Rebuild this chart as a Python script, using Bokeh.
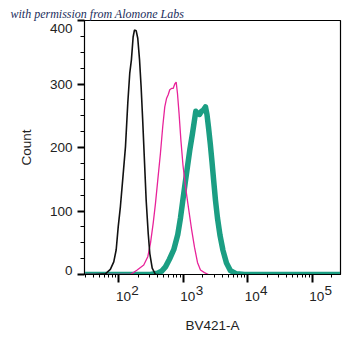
from bokeh.plotting import figure
from bokeh.models import (Range1d, SingleIntervalTicker, LogTicker, FixedTicker,
                          LinearAxis, LogAxis, Title)
from bokeh.embed import file_html
from bokeh.resources import INLINE

# Histogram outlines (BV421-A intensity, count)
black_x = [30, 43.5, 62, 74, 83.6, 91.2, 98, 106, 115, 127, 138, 148, 157, 167, 175, 186,
           197, 210, 222, 235, 250, 266, 286, 303, 330, 371, 417]
black_y = [0, 0, 1, 8, 20, 39, 75, 107, 149, 201, 270, 317, 338, 374, 385, 384,
           372, 338, 296, 243, 180, 117, 65, 33, 10, 0, 0]

pink_x = [30, 152, 193, 244, 282, 310, 342, 371, 403, 443, 481, 517, 550, 584, 618, 657,
          698, 739, 777, 814, 859, 922, 991, 1084, 1206, 1343, 1494, 1663, 1851, 2134, 2462]
pink_y = [0, 0, 7, 15, 28, 49, 81, 112, 149, 191, 233, 264, 277, 283, 291, 293,
          293, 300, 303, 285, 255, 210, 172, 138, 105, 72, 43, 19, 7, 3, 0]

teal_x = [30, 310, 398, 460, 530, 611, 713, 823, 906, 983, 1071, 1163, 1263, 1391, 1494,
          1565, 1662, 1785, 1918, 2060, 2212, 2334, 2463, 2627, 2790, 2965, 3162, 3396,
          3713, 4133, 4684, 5403, 6695, 8907, 270000]
teal_y = [0, 0, 2, 5, 12, 24, 39, 63, 89, 116, 144, 170, 196, 222, 243,
          257, 254, 252, 257, 259, 264, 252, 232, 206, 178, 148, 117, 89,
          62, 38, 18, 6, 1, 0, 0]

y_ticks_major = [0, 100, 200, 300, 400]
x_tick_decades = [2, 3, 4, 5]

FONT = "Liberation Sans"
FS = "13.5px"
TXT = "#222222"

p = figure(width=361, height=356, x_axis_type="log",
           x_range=Range1d(29.4, 275000), y_range=Range1d(0, 400),
           output_backend="svg", toolbar_location=None,
           min_border_left=84, min_border_right=21, min_border_top=20, min_border_bottom=82)

p.title = Title(text="with permission from Alomone Labs", align="left", offset=-74,
                standoff=-1, text_font="Liberation Serif", text_font_style="italic",
                text_font_size="12px", text_color="#1c2e5c")

p.line(teal_x, teal_y, line_color="#1b9e83", line_width=5.5, line_join="round")
p.line(pink_x, pink_y, line_color="#e8239a", line_width=1.3)
p.line(black_x, black_y, line_color="#111111", line_width=1.6)

p.xgrid.visible = False
p.ygrid.visible = False
p.outline_line_color = "black"
p.outline_line_width = 1.2
p.background_fill_color = "white"
p.border_fill_color = "white"


def style_text(ax):
    ax.major_label_text_font = FONT
    ax.major_label_text_font_size = FS
    ax.major_label_text_color = TXT
    ax.axis_label_text_font = FONT
    ax.axis_label_text_font_size = FS
    ax.axis_label_text_font_style = "normal"
    ax.axis_label_text_color = TXT


def labels_only(ax):
    ax.axis_line_color = None
    ax.major_tick_line_color = None
    ax.minor_tick_line_color = None
    ax.major_tick_out = 0
    ax.minor_tick_out = 0
    ax.major_tick_in = 0
    ax.minor_tick_in = 0
    style_text(ax)


# inner axes: line and ticks only
for ax in (p.xaxis[0], p.yaxis[0]):
    ax.axis_line_color = "black"
    ax.major_tick_line_color = "black"
    ax.minor_tick_line_color = "black"
    ax.major_tick_line_width = 2
    ax.minor_tick_line_width = 1
    ax.major_tick_in = 0
    ax.minor_tick_in = 0
    ax.major_label_standoff = 0
    style_text(ax)

p.yaxis[0].ticker = SingleIntervalTicker(interval=100, num_minor_ticks=4)
p.yaxis[0].major_tick_out = 7
p.yaxis[0].minor_tick_out = 4
p.yaxis[0].major_label_overrides = {v: "" for v in y_ticks_major}

p.xaxis[0].ticker = LogTicker(num_minor_ticks=10)
p.xaxis[0].major_tick_out = 8
p.xaxis[0].minor_tick_out = 3
p.xaxis[0].major_label_overrides = {10.0 ** d: "" for d in x_tick_decades}

# y tick labels (end labels pulled inside the frame height, as in the reference)
y_label_pos = [7, 100, 200, 300, 388]
yl = LinearAxis(ticker=FixedTicker(ticks=y_label_pos, minor_ticks=[]),
                major_label_overrides={pos: str(v) for pos, v in zip(y_label_pos, y_ticks_major)},
                axis_label="Count")
labels_only(yl)
yl.major_label_standoff = 5
yl.axis_label_standoff = 13
p.add_layout(yl, "left")

# x tick labels: raised exponent row, then "10" row
exp_pos = [10.0 ** d * 1.78 for d in x_tick_decades]
xe = LogAxis(ticker=FixedTicker(ticks=exp_pos, minor_ticks=[]),
             major_label_overrides={pos: str(d) for pos, d in zip(exp_pos, x_tick_decades)})
labels_only(xe)
xe.major_label_standoff = 3
p.add_layout(xe, "below")

ten_pos = [10.0 ** d * 1.18 for d in x_tick_decades]
xt = LogAxis(ticker=FixedTicker(ticks=ten_pos, minor_ticks=[]),
             major_label_overrides={pos: "10" for pos in ten_pos},
             axis_label="BV421-A")
labels_only(xt)
xt.major_label_standoff = -6
xt.axis_label_standoff = 14
p.add_layout(xt, "below")

open("out.html", "w").write(file_html(p, INLINE))
